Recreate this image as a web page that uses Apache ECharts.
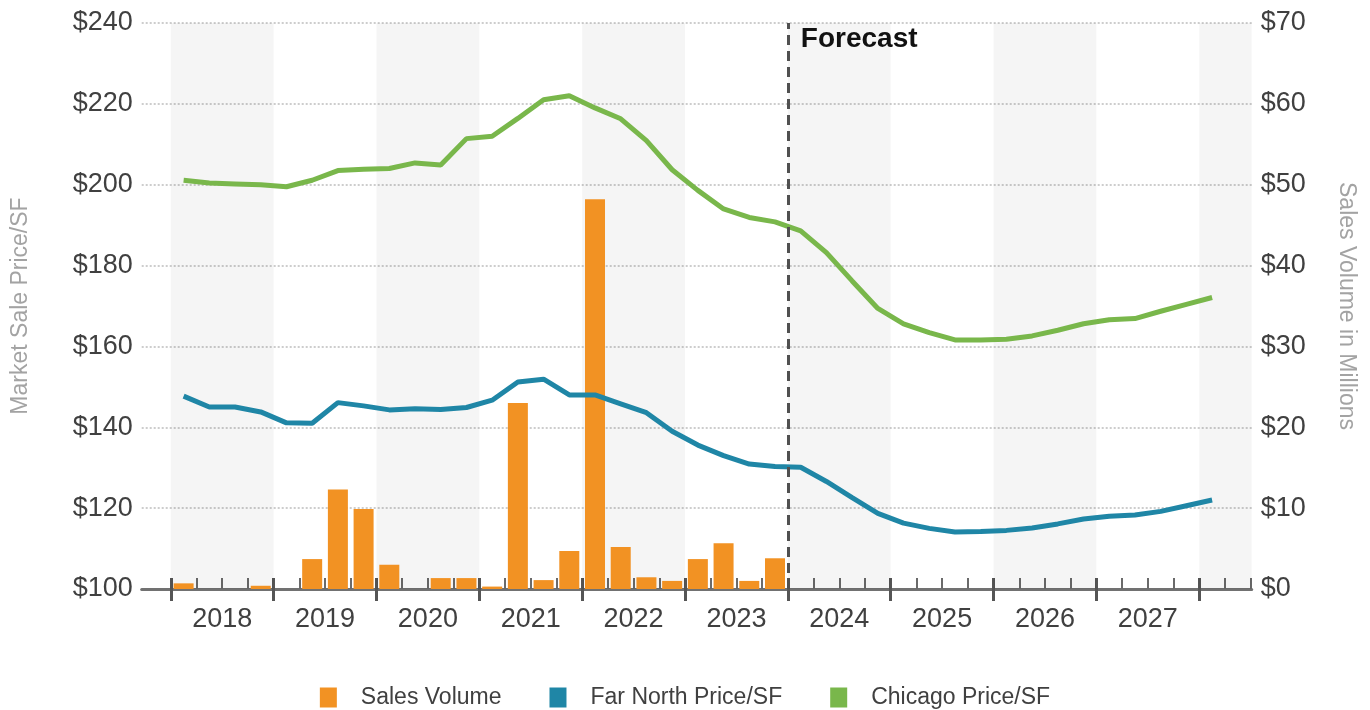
<!DOCTYPE html>
<html>
<head>
<meta charset="utf-8">
<title>Market Sale Price and Sales Volume</title>
<script src="https://cdn.jsdelivr.net/npm/echarts@6/dist/echarts.min.js"></script>
<style>
  html, body { margin: 0; padding: 0; background: #ffffff; }
  #chart { width: 1370px; height: 710px; }
</style>
</head>
<body>
<div id="chart"></div>
<script>
// Quarterly periods, 2018 Q1 through 2028 Q1
const quarters = [
  '2018 Q1','2018 Q2','2018 Q3','2018 Q4',
  '2019 Q1','2019 Q2','2019 Q3','2019 Q4',
  '2020 Q1','2020 Q2','2020 Q3','2020 Q4',
  '2021 Q1','2021 Q2','2021 Q3','2021 Q4',
  '2022 Q1','2022 Q2','2022 Q3','2022 Q4',
  '2023 Q1','2023 Q2','2023 Q3','2023 Q4',
  '2024 Q1','2024 Q2','2024 Q3','2024 Q4',
  '2025 Q1','2025 Q2','2025 Q3','2025 Q4',
  '2026 Q1','2026 Q2','2026 Q3','2026 Q4',
  '2027 Q1','2027 Q2','2027 Q3','2027 Q4',
  '2028 Q1'
];

// Sales volume in millions of dollars (history only, 2018 Q1 - 2023 Q4)
const salesVolume = [
  0.7, 0, 0, 0.4,
  0, 3.7, 12.3, 9.9,
  3.0, 0, 1.35, 1.35,
  0.3, 23.0, 1.1, 4.7,
  48.2, 5.2, 1.45, 1.0,
  3.7, 5.65, 1.0, 3.8
];

// Market sale price per square foot
const farNorthPrice = [
  147.7, 145.0, 145.0, 143.8,
  141.1, 141.0, 146.1, 145.3,
  144.3, 144.6, 144.4, 144.9,
  146.7, 151.2, 151.9, 148.0,
  148.0, 145.8, 143.6, 139.0,
  135.6, 133.0, 130.9, 130.3,
  130.1, 126.6, 122.6, 118.7,
  116.3, 115.0, 114.1, 114.2,
  114.5, 115.1, 116.1, 117.3,
  118.0, 118.3, 119.2, 120.6,
  122.0
];

const chicagoPrice = [
  201.1, 200.4, 200.2, 200.0,
  199.5, 201.1, 203.5, 203.8,
  204.0, 205.4, 204.9, 211.4,
  212.0, 216.4, 221.0, 222.0,
  219.0, 216.3, 210.9, 203.7,
  198.6, 194.0, 191.9, 190.8,
  188.6, 183.2, 176.2, 169.4,
  165.6, 163.4, 161.6, 161.6,
  161.8, 162.6, 164.0, 165.6,
  166.6, 166.9, 168.7, 170.4,
  172.1
];

const yearLabels = ['2018','2019','2020','2021','2022','2023','2024','2025','2026','2027'];
const forecastStart = '2024 Q1';

const seriesNames = ['Sales Volume', 'Far North Price/SF', 'Chicago Price/SF'];
const seriesColors = ['#F29223', '#1F86A6', '#79B74B'];

// x runs in quarter units: quarter i occupies [i, i+1], 0 = start of 2018
const X_MIN = -1.13;
const X_MAX = 42.04;
const FONT = '"Liberation Sans", Arial, Helvetica, sans-serif';

const qx = (i) => i + 0.5;
const salesData = salesVolume.map((v, i) => [qx(i), v]);
const farNorthData = farNorthPrice.map((v, i) => [qx(i), v]);
const chicagoData = chicagoPrice.map((v, i) => [qx(i), v]);

const yearStarts = [];
for (let q = 0; q <= quarters.length - 1; q += 4) yearStarts.push(q);
const quarterTicks = [];
for (let q = 1; q <= Math.floor(X_MAX); q++) if (q % 4 !== 0) quarterTicks.push(q);
const yearCenters = yearLabels.map((_, k) => 4 * k + 2);

// alternate-year shading bands
const bands = [];
for (let q = 0; q < X_MAX; q += 8) {
  bands.push([{ xAxis: q }, { xAxis: Math.min(q + 4, X_MAX) }]);
}
const forecastX = quarters.indexOf(forecastStart);

const chart = echarts.init(document.getElementById('chart'), null, { renderer: 'canvas' });

const baseX = {
  type: 'value', min: X_MIN, max: X_MAX, position: 'bottom',
  splitLine: { show: false }, axisLabel: { show: false }
};

chart.setOption({
  animation: false,
  backgroundColor: '#ffffff',
  textStyle: { fontFamily: FONT },
  grid: {
    left: 141.7, right: 118.3, top: 23, bottom: 121,
    containLabel: false, outerBoundsMode: 'none'
  },
  legend: {
    data: seriesNames,
    top: 686, left: 'center', padding: 0,
    icon: 'rect', itemWidth: 17, itemHeight: 20, itemGap: 48,
    textStyle: { fontSize: 23, color: '#404040', fontFamily: FONT, padding: [0, 0, 0, 19] }
  },
  xAxis: [
    Object.assign({}, baseX, {
      axisLine: { show: true, lineStyle: { color: '#717171', width: 3 } },
      axisTick: { show: true, inside: true, length: 11, customValues: quarterTicks,
                  lineStyle: { color: '#6a6a6a', width: 2 } }
    }),
    Object.assign({}, baseX, {
      axisLine: { show: false },
      axisTick: { show: true, inside: true, length: 11, customValues: yearStarts,
                  lineStyle: { color: '#555555', width: 3 } }
    }),
    Object.assign({}, baseX, {
      axisLine: { show: false },
      axisTick: { show: true, inside: false, length: 12, customValues: yearStarts,
                  lineStyle: { color: '#555555', width: 3 } },
      axisLabel: {
        show: true, customValues: yearCenters, margin: 17,
        fontSize: 27, color: '#404040', fontFamily: FONT,
        formatter: (v) => yearLabels[Math.round((v - 2) / 4)]
      }
    })
  ],
  yAxis: [
    {
      type: 'value', min: 100, max: 240, interval: 20, position: 'left',
      name: 'Market Sale Price/SF', nameLocation: 'middle', nameGap: 110,
      nameTextStyle: { fontSize: 23, color: '#a3a3a3', fontFamily: FONT },
      axisLine: { show: false }, axisTick: { show: false },
      axisLabel: { margin: 9, fontSize: 27, color: '#404040', fontFamily: FONT,
                   formatter: '${value}' },
      splitLine: { show: true, lineStyle: { color: '#bdbdbd', width: 1.5, type: [2, 2] } }
    },
    {
      type: 'value', min: 0, max: 70, interval: 10, position: 'right',
      name: 'Sales Volume in Millions', nameLocation: 'middle', nameGap: 83, nameRotate: -90,
      nameTextStyle: { fontSize: 23, color: '#a3a3a3', fontFamily: FONT },
      axisLine: { show: false }, axisTick: { show: false },
      axisLabel: { margin: 9, fontSize: 27, color: '#404040', fontFamily: FONT,
                   formatter: '${value}' },
      splitLine: { show: false }
    }
  ],
  series: [
    {
      name: 'bands', type: 'line', data: [], z: 0, silent: true,
      markArea: { silent: true, itemStyle: { color: 'rgba(0,0,0,0.038)' }, data: bands }
    },
    {
      name: seriesNames[0], type: 'bar', xAxisIndex: 0, yAxisIndex: 1,
      data: salesData, barWidth: 20, itemStyle: { color: seriesColors[0] }, z: 2
    },
    {
      name: seriesNames[1], type: 'line', xAxisIndex: 0, yAxisIndex: 0,
      data: farNorthData, showSymbol: false, symbol: 'none',
      lineStyle: { color: seriesColors[1], width: 5 }, itemStyle: { color: seriesColors[1] }, z: 3
    },
    {
      name: seriesNames[2], type: 'line', xAxisIndex: 0, yAxisIndex: 0,
      data: chicagoData, showSymbol: false, symbol: 'none',
      lineStyle: { color: seriesColors[2], width: 5 }, itemStyle: { color: seriesColors[2] }, z: 3
    },
    {
      name: 'forecast', type: 'line', data: [], z: 5, silent: true,
      markLine: {
        silent: true, symbol: 'none', animation: false,
        lineStyle: { color: '#505050', width: 3, type: [10, 6] },
        label: { show: false },
        data: [{ xAxis: forecastX }]
      }
    }
  ]
});

// "Forecast" caption beside the divider line
const fx = chart.convertToPixel({ xAxisIndex: 0 }, forecastX);
chart.setOption({
  graphic: [{
    type: 'text', x: fx + 13, y: 39, z: 10,
    style: { text: 'Forecast', fill: '#111111', font: 'bold 28px ' + FONT,
             verticalAlign: 'middle', align: 'left' }
  }]
});
</script>
</body>
</html>
